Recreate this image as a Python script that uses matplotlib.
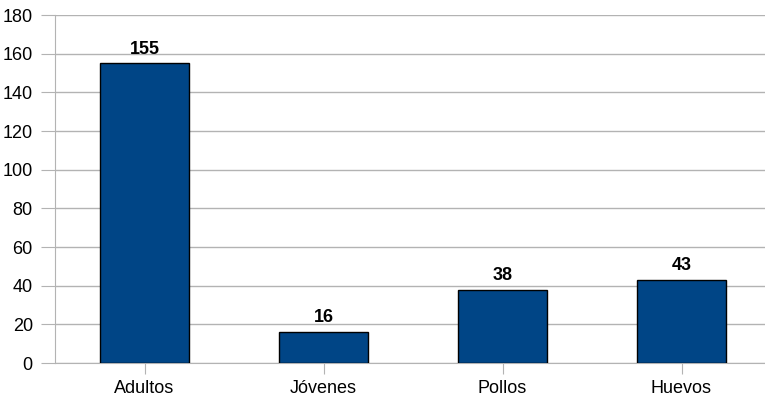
import matplotlib.pyplot as plt
import numpy as np

categorias = ["Adultos", "Jóvenes", "Pollos", "Huevos"]
valores = [155, 16, 38, 43]
yticks = [0, 20, 40, 60, 80, 100, 120, 140, 160, 180]

plt.rcParams["font.family"] = ["Liberation Sans", "DejaVu Sans"]

fig = plt.figure(figsize=(7.65, 4.04), dpi=100)
ax = fig.add_axes([55 / 765, 41 / 404, 710 / 765, 348 / 404])

x = np.arange(len(categorias))
ax.bar(x, valores, width=0.5, color="#004586", edgecolor="black", linewidth=1, zorder=3)

# Etiquetas de valores
for xi, v in zip(x, valores):
    ax.text(xi, v + 3, str(v), ha="center", va="bottom", fontsize=13,
            fontweight="bold", color="black")

ax.set_xlim(-0.5, -0.5 + 710 / 179)
ax.set_ylim(0, 180)
ax.set_yticks(yticks)
ax.set_xticks(x)
ax.set_xticklabels(categorias)

ax.grid(axis="y", color="#b3b3b3", linewidth=1, zorder=0)
for s in ["top", "right"]:
    ax.spines[s].set_visible(False)
ax.spines["left"].set_color("#b3b3b3")
ax.spines["bottom"].set_color("#b3b3b3")
ax.tick_params(axis="y", length=10, color="#b3b3b3", labelsize=13, pad=6)
ax.tick_params(axis="x", length=8, color="#b3b3b3", labelsize=13, pad=4)

fig.savefig("out.png", dpi=100)
